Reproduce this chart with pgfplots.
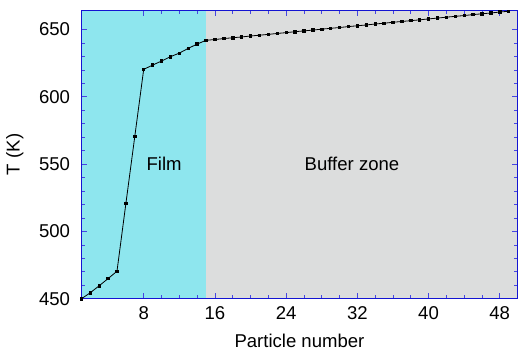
\documentclass[border=0pt]{standalone}
\usepackage{pgfplots}
\pgfplotsset{compat=1.18}
\usepackage{fontspec}
\setmainfont{Liberation Sans}
\definecolor{filmc}{RGB}{142,230,238}
\definecolor{bufc}{RGB}{220,221,221}
\definecolor{axb}{RGB}{20,20,210}
\definecolor{tkb}{RGB}{70,70,225}
\begin{document}
\fontsize{18.5}{22}\selectfont
\begin{tikzpicture}
\begin{axis}[
  scale only axis, width=435pt, height=288pt,
  xmin=1, xmax=50, ymin=450, ymax=664.5,
  xtick={8,16,24,32,40,48}, minor x tick num=3,
  ytick={450,500,550,600,650}, minor y tick num=4,
  tick align=inside, tick pos=both,
  major tick length=6pt, minor tick length=3.5pt,
  axis line style={axb, line width=0.9pt},
  every tick/.style={tkb, line width=0.8pt},
  tick label style={font=\fontsize{18.5}{22}\selectfont},
  label style={font=\fontsize{18.5}{22}\selectfont},
  /pgf/number format/assume math mode=true,
  xlabel={Particle number}, ylabel={T (K)},
  xlabel style={yshift=-2pt},
  ylabel style={yshift=3pt},
  xticklabel style={yshift=-1pt},
  yticklabel style={xshift=-5pt},
  axis on top,
  clip=true,
]
\fill[filmc] (axis cs:1,450) rectangle (axis cs:15,664.5);
\fill[bufc] (axis cs:15,450) rectangle (axis cs:50,664.5);
\addplot[black, line width=0.8pt, mark=square*, mark size=1.2pt] coordinates {
(1,450) (2,454.5) (3,459.7) (4,465) (5,470.5) (6,520.8) (7,570.6) (8,620.4)
(9,623.6) (10,626.6) (11,629.8) (12,632.5) (13,636) (14,639.2) (15,642)
(16,642.6) (17,643.3) (18,643.9) (19,644.5) (20,645.2) (21,645.8) (22,646.4)
(23,647.1) (24,647.7) (25,648.4) (26,649.0) (27,649.6) (28,650.3) (29,650.9)
(30,651.5) (31,652.2) (32,652.8) (33,653.4) (34,654.1) (35,654.7) (36,655.4)
(37,656.0) (38,656.6) (39,657.2) (40,657.9) (41,658.5) (42,659.2) (43,659.8)
(44,660.4) (45,661.1) (46,661.7) (47,662.3) (48,663.0) (49,663.6)
};
\node at (axis cs:10.3,550.3) {Film};
\node at (axis cs:31.4,550.3) {Buffer zone};
\end{axis}
\path (current axis.north west) ++(0,10pt);
\end{tikzpicture}
\end{document}
